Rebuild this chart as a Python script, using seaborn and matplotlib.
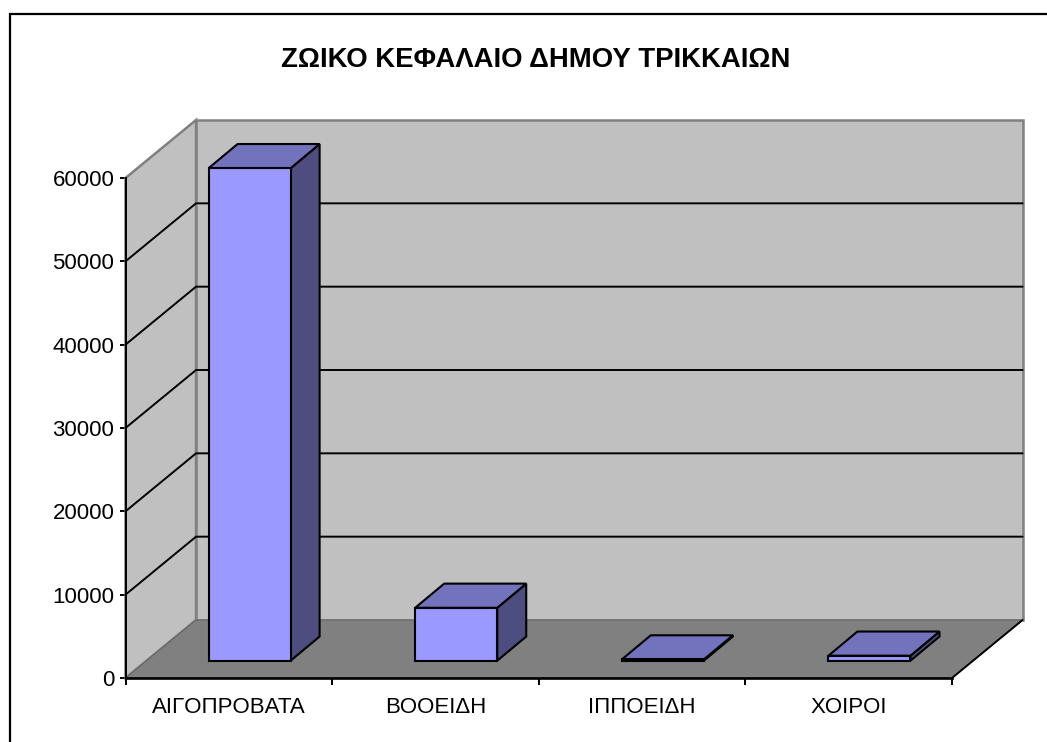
import matplotlib
matplotlib.use("Agg")
import matplotlib.pyplot as plt
from matplotlib.patches import Polygon, Rectangle
import pandas as pd
import seaborn as sns

categories = ["ΑΙΓΟΠΡΟΒΑΤΑ", "ΒΟΟΕΙΔΗ", "ΙΠΠΟΕΙΔΗ", "ΧΟΙΡΟΙ"]
values = [59100, 6350, 150, 600]
y_ticks = [0, 10000, 20000, 30000, 40000, 50000, 60000]
title = "ΖΩΙΚΟ ΚΕΦΑΛΑΙΟ ΔΗΜΟΥ ΤΡΙΚΚΑΙΩΝ"

W, H = 1047, 742
FRONT = "#9999FF"
TOP = "#7373BD"
SIDE = "#4D4D80"
WALL = "#C0C0C0"
FLOOR = "#808080"

sns.set_theme(style="white")
plt.rcParams["font.family"] = ["Liberation Sans", "DejaVu Sans"]

fig = plt.figure(figsize=(W / 100, H / 100), dpi=100, facecolor="white")
ax = fig.add_axes([125.5 / W, 1 - 678 / H, 826.5 / W, 500 / H])
ax.patch.set_visible(False)

df = pd.DataFrame({"category": categories, "value": values})
sns.barplot(data=df, x="category", y="value", color=FRONT, saturation=1,
            width=0.397, edgecolor="black", linewidth=1.5, zorder=5, ax=ax)
ax.set_xlim(-0.5, 3.5)
ax.set_ylim(0, 60000)

# depth of the fake 3d box, in data units
depth_x, depth_y = 0.3414, 6960
x0, x1 = ax.get_xlim()
y0, y1 = ax.get_ylim()


def face(points, color, edge="none", lw=0, z=1):
    ax.add_patch(Polygon(points, closed=True, facecolor=color, edgecolor=edge,
                         linewidth=lw, clip_on=False, zorder=z, joinstyle="miter"))


# walls and floor
face([(x0, y0), (x0 + depth_x, y0 + depth_y), (x0 + depth_x, y1 + depth_y), (x0, y1)],
     WALL, FLOOR, 1.8)
face([(x0 + depth_x, y0 + depth_y), (x1 + depth_x, y0 + depth_y),
      (x1 + depth_x, y1 + depth_y), (x0 + depth_x, y1 + depth_y)], WALL, FLOOR, 1.8)
face([(x0, y0), (x1, y0), (x1 + depth_x, y0 + depth_y), (x0 + depth_x, y0 + depth_y)],
     FLOOR, "#666666", 0.8, z=1.5)

# gridlines along side and back wall
for t in y_ticks[1:-1]:
    ax.plot([x0, x0 + depth_x, x1 + depth_x], [t, t + depth_y, t + depth_y],
            color="black", lw=1.4, clip_on=False, zorder=2, solid_joinstyle="miter")
ax.plot([x1, x1 + depth_x], [y0, y0 + depth_y], color="black", lw=1.4,
        clip_on=False, zorder=2)

# push the bars into the box and add their side and top faces
bar_dx, bar_dy = 0.1005, 2076
bar_depth_x, bar_depth_y = 0.1404, 2900
for bar in ax.patches[:len(values)]:
    bar.set_x(bar.get_x() + bar_dx)
    bar.set_y(bar.get_y() + bar_dy)
    bar.set_clip_on(False)
    left, right = bar.get_x(), bar.get_x() + bar.get_width()
    bottom, top = bar.get_y(), bar.get_y() + bar.get_height()
    face([(right, bottom), (right + bar_depth_x, bottom + bar_depth_y),
          (right + bar_depth_x, top + bar_depth_y), (right, top)],
         SIDE, "black", 1.5, z=4)
    face([(left, top), (right, top), (right + bar_depth_x, top + bar_depth_y),
          (left + bar_depth_x, top + bar_depth_y)], TOP, "black", 1.5, z=4)

sns.despine(ax=ax)
for side in ["left", "bottom"]:
    ax.spines[side].set_color("black")
    ax.spines[side].set_zorder(6)
ax.spines["left"].set_linewidth(1.4)
ax.spines["bottom"].set_linewidth(1.9)

ax.set_xlabel("")
ax.set_ylabel("")
ax.set_yticks(y_ticks)
ax.tick_params(axis="y", which="major", left=True, length=4, width=1.4, color="black",
               labelsize=16, labelcolor="black", pad=4)
ax.set_xticks([x0 + i for i in range(len(categories) + 1)], minor=True)
ax.tick_params(axis="x", which="minor", bottom=True, length=5, width=1.4, color="black")
ax.tick_params(axis="x", which="major", bottom=False, labelsize=16, labelcolor="black", pad=8)

fig.text(535.5 / W, 1 - 60 / H, title, ha="center", va="center", fontsize=19.8,
         fontweight="bold", color="black")

# chart area border runs off the right and bottom of the picture
fig.add_artist(Rectangle((9.5 / W, -0.1), 1.2, 1.1 - 13.5 / H,
                         transform=fig.transFigure, facecolor="none",
                         edgecolor="black", linewidth=1.6))

fig.savefig("out.png", dpi=100)
